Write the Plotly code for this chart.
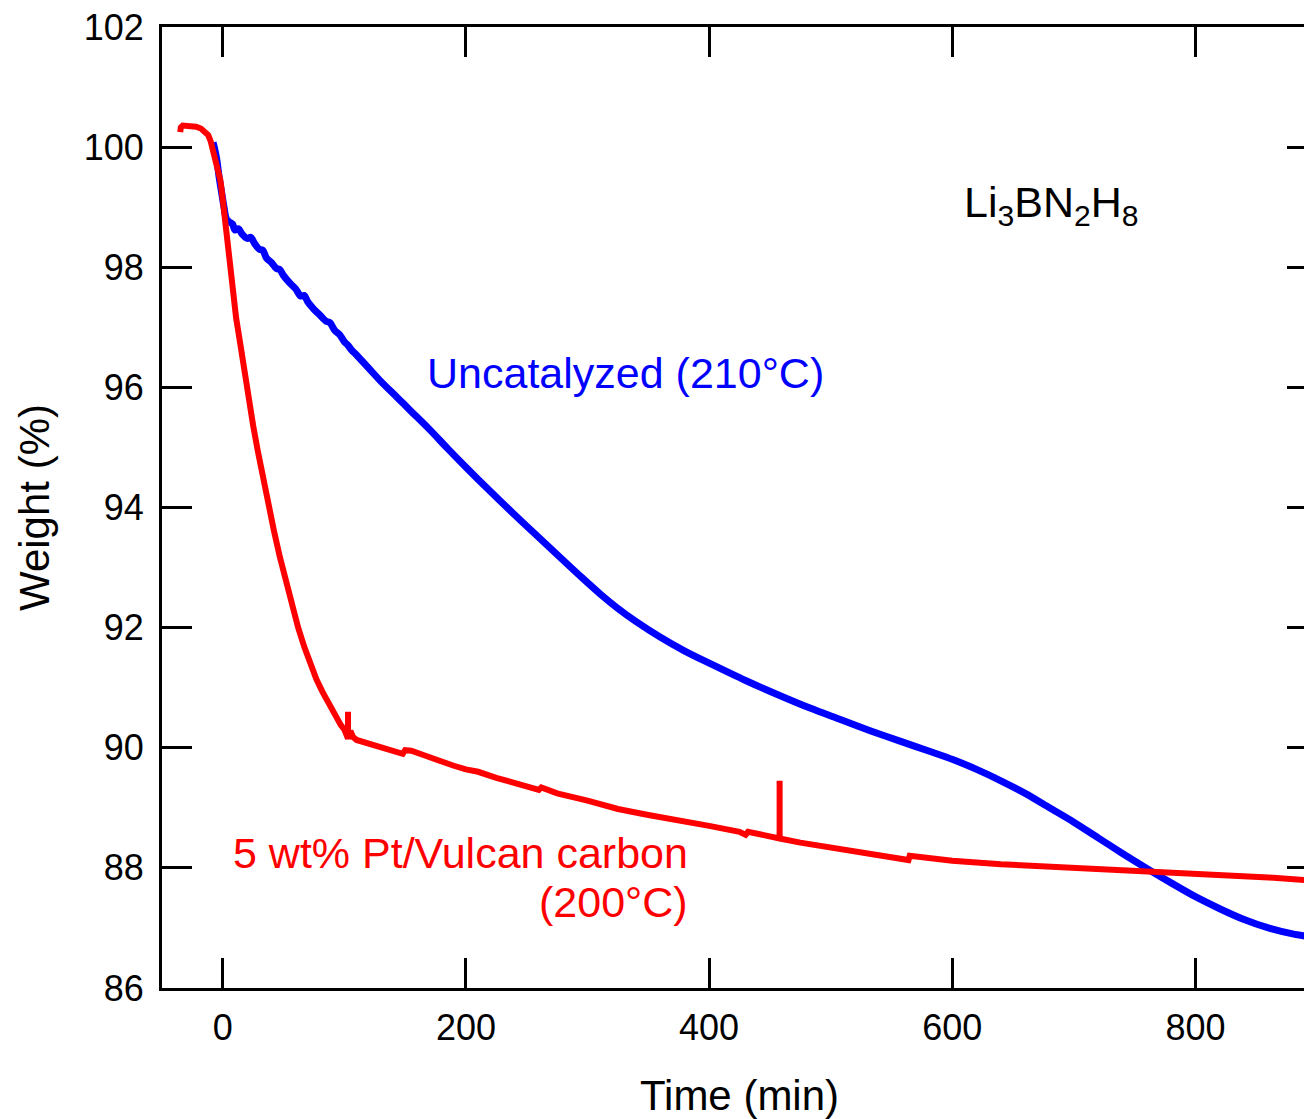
import plotly.graph_objects as go

# ---- data ----
blue_time = [-8, -7, -5, -3, -1, 1, 3, 5, 8, 10, 13, 16, 20, 23, 26, 30, 33, 36, 40, 44, 47, 50, 55, 60,
             64, 67, 70, 75, 80, 85, 88, 92, 96, 100, 103, 106, 110, 120, 130, 143, 155, 170, 185, 200,
             220, 240, 260, 278, 295, 311, 325, 340, 360, 380, 401, 430, 458, 483, 508, 533, 557, 580,
             601, 620, 640, 660, 680, 700, 720, 740, 760, 780, 800, 820, 840, 860, 880, 895]
blue_weight = [100.08, 100.0, 99.8, 99.5, 99.25, 99.0, 98.8, 98.76, 98.72, 98.62, 98.64, 98.55, 98.48,
               98.5, 98.4, 98.3, 98.28, 98.15, 98.08, 97.98, 97.96, 97.86, 97.74, 97.64, 97.52, 97.53,
               97.42, 97.3, 97.2, 97.1, 97.08, 96.95, 96.88, 96.76, 96.7, 96.62, 96.54, 96.32, 96.1,
               95.84, 95.6, 95.3, 94.98, 94.67, 94.27, 93.88, 93.5, 93.16, 92.84, 92.55, 92.32, 92.1,
               91.84, 91.61, 91.4, 91.12, 90.87, 90.66, 90.47, 90.28, 90.11, 89.95, 89.8, 89.64, 89.45,
               89.24, 89.0, 88.76, 88.5, 88.24, 87.99, 87.75, 87.52, 87.32, 87.14, 87.0, 86.9, 86.85]

red_time = [-35, -34.5, -33, -30, -26, -22, -18, -15, -12, -10, -8, -6, -4, -2, -1, 0, 1, 2, 3.3, 5, 7,
            8.7, 11, 13, 15, 17, 19, 21, 25, 29, 33, 37, 42, 47, 52, 57, 62, 67, 72, 77, 82, 86, 90, 94,
            97, 100, 102, 103, 103, 103, 105, 107, 110, 115, 120, 130, 140, 148, 150, 155, 165, 175,
            190, 200, 210, 225, 250, 260, 262, 275, 300, 325, 350, 375, 400, 425, 430, 432, 450, 457,
            458, 458, 458, 475, 500, 525, 550, 564, 565, 580, 600, 640, 680, 720, 766, 800, 831, 860, 895]
red_weight = [100.25, 100.33, 100.36, 100.36, 100.35, 100.34, 100.31, 100.27, 100.2, 100.1, 99.95, 99.8,
              99.62, 99.45, 99.3, 99.1, 98.95, 98.77, 98.57, 98.2, 97.8, 97.45, 97.15, 96.9, 96.62,
              96.34, 96.08, 95.84, 95.36, 94.92, 94.5, 94.1, 93.62, 93.17, 92.75, 92.36, 92.0, 91.68,
              91.4, 91.14, 90.93, 90.78, 90.62, 90.48, 90.38, 90.3, 90.22, 90.15, 90.6, 90.15, 90.28,
              90.18, 90.13, 90.1, 90.07, 90.0, 89.95, 89.9, 89.96, 89.95, 89.88, 89.8, 89.7, 89.64,
              89.6, 89.5, 89.36, 89.3, 89.34, 89.24, 89.12, 88.98, 88.88, 88.8, 88.7, 88.6, 88.55,
              88.6, 88.52, 88.5, 88.49, 89.45, 88.49, 88.42, 88.34, 88.26, 88.18, 88.13, 88.2, 88.16,
              88.12, 88.06, 88.02, 87.98, 87.94, 87.91, 87.88, 87.84, 87.79]

x_ticks = [0, 200, 400, 600, 800]
y_ticks = [86, 88, 90, 92, 94, 96, 98, 100, 102]

FONT = "Liberation Sans, Arial, sans-serif"

fig = go.Figure()
fig.add_trace(go.Scatter(x=blue_time, y=blue_weight, mode="lines",
                         line=dict(color="#0000ff", width=7, shape="spline", smoothing=0.8),
                         showlegend=False))
fig.add_trace(go.Scatter(x=red_time, y=red_weight, mode="lines",
                         line=dict(color="#ff0000", width=6), showlegend=False))

axis_common = dict(showline=True, linewidth=3, linecolor="black", mirror="ticks",
                   ticks="inside", ticklen=30, tickwidth=3, tickcolor="black",
                   showgrid=False, zeroline=False,
                   tickfont=dict(family=FONT, size=36, color="black"))

fig.update_xaxes(range=[-50, 900], tickvals=x_ticks, ticklabelstandoff=6,
                 title=dict(text="Time (min)", font=dict(family=FONT, size=42, color="black"), standoff=34),
                 **axis_common)
fig.update_yaxes(range=[86, 102], tickvals=y_ticks, ticklabelstandoff=8,
                 title=dict(text="Weight (%)", font=dict(family=FONT, size=42, color="black"), standoff=22),
                 **axis_common)

fig.add_annotation(x=166.5, y=96.24, xref="x", yref="y", text="Uncatalyzed (210°C)",
                   showarrow=False, xanchor="left", yanchor="middle",
                   font=dict(family=FONT, size=43, color="#0000ff"))
fig.add_annotation(x=384.5, y=88.25, xref="x", yref="y", text="5 wt% Pt/Vulcan carbon",
                   showarrow=False, xanchor="right", yanchor="middle",
                   font=dict(family=FONT, size=43, color="#ff0000"))
fig.add_annotation(x=384.5, y=87.43, xref="x", yref="y", text="(200°C)",
                   showarrow=False, xanchor="right", yanchor="middle",
                   font=dict(family=FONT, size=43, color="#ff0000"))
fig.add_annotation(x=608.3, y=99.03, xref="x", yref="y", text="Li<sub>3</sub>BN<sub>2</sub>H<sub>8</sub>",
                   showarrow=False, xanchor="left", yanchor="middle",
                   font=dict(family=FONT, size=43, color="black"))

fig.update_layout(width=1320, height=1119,
                  margin=dict(l=162, r=3, t=27, b=131, autoexpand=False),
                  paper_bgcolor="white", plot_bgcolor="white")

fig.write_html("out.html",
               post_script="document.documentElement.style.overflow='hidden';document.body.style.overflow='hidden';")
